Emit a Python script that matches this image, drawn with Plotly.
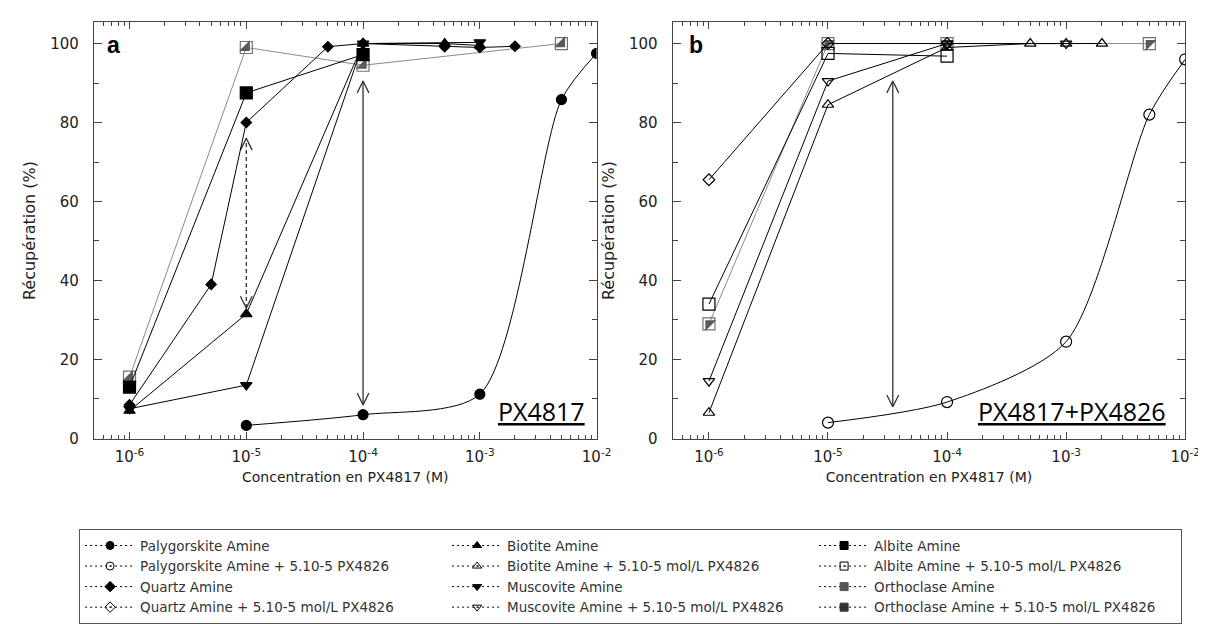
import plotly.graph_objects as go

# ---------------- data (panel a : PX4817) ----------------
pal_a_x = [1e-5, 1e-4, 1e-3, 5e-3, 1e-2]
pal_a_y = [3.3, 6.0, 11.2, 85.8, 97.5]
qtz_a_x = [1e-6, 5e-6, 1e-5, 5e-5, 1e-4, 5e-4, 1e-3, 2e-3]
qtz_a_y = [8.5, 39.0, 80.0, 99.2, 100.0, 99.2, 99.0, 99.3]
bio_a_x = [1e-6, 1e-5, 1e-4, 5e-4, 1e-3]
bio_a_y = [7.0, 31.5, 100.0, 100.0, 99.5]
mus_a_x = [1e-6, 1e-5, 1e-4, 1e-3]
mus_a_y = [7.5, 13.5, 100.0, 100.3]
alb_a_x = [1e-6, 1e-5, 1e-4]
alb_a_y = [13.0, 87.5, 97.2]
ort_a_x = [1e-6, 1e-5, 1e-4, 5e-3]
ort_a_y = [15.5, 99.0, 94.5, 100.0]

# ---------------- data (panel b : PX4817+PX4826) ----------------
pal_b_x = [1e-5, 1e-4, 1e-3, 5e-3, 1e-2]
pal_b_y = [4.0, 9.2, 24.5, 82.0, 96.0]
qtz_b_x = [1e-6, 1e-5, 1e-4]
qtz_b_y = [65.5, 100.0, 100.0]
bio_b_x = [1e-6, 1e-5, 1e-4, 5e-4, 1e-3, 2e-3]
bio_b_y = [6.5, 84.5, 99.0, 100.0, 100.0, 100.0]
mus_b_x = [1e-6, 1e-5, 1e-4, 1e-3]
mus_b_y = [14.5, 90.5, 100.0, 100.0]
alb_b_x = [1e-6, 1e-5, 1e-4]
alb_b_y = [34.0, 97.5, 96.8]
ort_b_x = [1e-6, 1e-5, 1e-4, 5e-3]
ort_b_y = [29.0, 100.0, 100.0, 100.0]

# arrows: (x, y_bottom_tip, y_top_tip, dashed)
arrows_a = [(1e-5, 33.0, 76.0, True), (1e-4, 8.5, 90.5, False)]
arrows_b = [(3.5e-5, 8.0, 90.5, False)]

tick_vals = [1e-6, 1e-5, 1e-4, 1e-3, 1e-2]
tick_text = ["10<sup>-6</sup>", "10<sup>-5</sup>", "10<sup>-4</sup>", "10<sup>-3</sup>", "10<sup>-2</sup>"]
minor_vals = [m * 10.0 ** e for e in range(-7, -1) for m in range(2, 10)]

legend_names = [
    "Palygorskite Amine", "Biotite Amine", "Albite Amine",
    "Palygorskite Amine + 5.10-5 PX4826", "Biotite Amine + 5.10-5 mol/L PX4826", "Albite Amine + 5.10-5 mol/L PX4826",
    "Quartz Amine", "Muscovite Amine", "Orthoclase Amine",
    "Quartz Amine + 5.10-5 mol/L PX4826", "Muscovite Amine + 5.10-5 mol/L PX4826", "Orthoclase Amine + 5.10-5 mol/L PX4826",
]
legend_symbols = [
    "circle", "triangle-up", "square",
    "circle-open-dot", "triangle-up-open-dot", "square-open-dot",
    "diamond", "triangle-down", "square",
    "diamond-open-dot", "triangle-down-open-dot", "square",
]
legend_colors = ["black", "black", "black", "black", "black", "black",
                 "black", "black", "#555555", "black", "black", "#333333"]

FONT = "DejaVu Sans"
GREY = "#8a8a8a"

fig = go.Figure()


def series(x, y, xa, ya, symbol, size, color="black", lcolor="black", spline=False, lw=1):
    fig.add_trace(go.Scatter(
        x=x, y=y, xaxis=xa, yaxis=ya, mode="lines+markers", showlegend=False,
        line=dict(color=lcolor, width=lw, shape="spline" if spline else "linear", smoothing=0.75),
        marker=dict(symbol=symbol, size=size, color=color, line=dict(color=color, width=1.2)),
        hoverinfo="skip"))


def ortho(x, y, xa, ya, tri):
    series(x, y, xa, ya, "square-open", 12, color="#707070", lcolor=GREY)
    fig.add_trace(go.Scatter(
        x=x, y=y, xaxis=xa, yaxis=ya, mode="markers", showlegend=False,
        marker=dict(symbol=tri, size=12, color="#5a5a5a", line=dict(width=0)),
        hoverinfo="skip"))


def arrows(lst, xa, ya):
    for (x, yb, yt, dashed) in lst:
        fig.add_trace(go.Scatter(
            x=[x, x], y=[yb, yt], xaxis=xa, yaxis=ya, mode="lines", showlegend=False,
            line=dict(color="#333333", width=1.3, dash="4px,3px" if dashed else "solid"),
            hoverinfo="skip"))
        k = 10 ** 0.05
        fig.add_trace(go.Scatter(
            x=[x / k, x, x * k, None, x / k, x, x * k],
            y=[yt - 3, yt, yt - 3, None, yb + 3, yb, yb + 3],
            xaxis=xa, yaxis=ya, mode="lines", showlegend=False,
            line=dict(color="#333333", width=1.3), hoverinfo="skip"))


# panel a
arrows(arrows_a, "x", "y")
ortho(ort_a_x, ort_a_y, "x", "y", "triangle-se")
series(pal_a_x, pal_a_y, "x", "y", "circle", 10, spline=True)
series(alb_a_x, alb_a_y, "x", "y", "square", 12)
series(mus_a_x, mus_a_y, "x", "y", "triangle-down", 10)
series(bio_a_x, bio_a_y, "x", "y", "triangle-up", 10)
series(qtz_a_x, qtz_a_y, "x", "y", "diamond", 8)

# panel b
arrows(arrows_b, "x2", "y2")
ortho(ort_b_x, ort_b_y, "x2", "y2", "triangle-nw")
series(pal_b_x, pal_b_y, "x2", "y2", "circle-open", 11, spline=True)
series(alb_b_x, alb_b_y, "x2", "y2", "square-open", 12)
series(mus_b_x, mus_b_y, "x2", "y2", "triangle-down-open", 10)
series(bio_b_x, bio_b_y, "x2", "y2", "triangle-up-open", 10)
series(qtz_b_x, qtz_b_y, "x2", "y2", "diamond-open", 9)

# legend-only entries
for name, sym, col in zip(legend_names, legend_symbols, legend_colors):
    fig.add_trace(go.Scatter(
        x=[None], y=[None], xaxis="x", yaxis="y", mode="lines+markers", name=name,
        line=dict(color="black", width=1, dash="2px,3px"),
        marker=dict(symbol=sym, size=8, color=col, line=dict(color=col, width=1))))

axis_common = dict(showline=True, linecolor="#444444", linewidth=1, mirror="ticks",
                   ticks="inside", tickcolor="#444444", showgrid=False, zeroline=False,
                   tickfont=dict(family=FONT, size=15, color="#222222"))

xcommon = dict(axis_common, type="log", range=[-6.305, -2.0], tickvals=tick_vals, ticktext=tick_text,
               ticklen=7, ticklabelstandoff=4,
               minor=dict(tickvals=minor_vals, ticks="inside", ticklen=4, tickcolor="#444444", showgrid=False),
               title=dict(text="Concentration en PX4817 (M)", font=dict(family=FONT, size=14, color="#222222"),
                          standoff=6))
ycommon = dict(axis_common, range=[-0.25, 105.5], tickvals=[0, 20, 40, 60, 80, 100], ticklen=8,
               ticklabelstandoff=11,
               minor=dict(dtick=10, ticks="inside", ticklen=5, tickcolor="#444444", showgrid=False),
               title=dict(text="Récupération (%)", font=dict(family=FONT, size=16, color="#222222"),
                          standoff=10))

W, H = 1206, 624
ydom = [(H - 437) / H, (H - 14) / H]
fig.update_layout(
    width=W, height=H, margin=dict(l=0, r=0, t=0, b=0),
    paper_bgcolor="white", plot_bgcolor="white",
    xaxis=dict(xcommon, domain=[87 / W, 596 / W], anchor="y"),
    yaxis=dict(ycommon, domain=ydom, anchor="x"),
    xaxis2=dict(xcommon, domain=[673 / W, 1192 / W], anchor="y2"),
    yaxis2=dict(ycommon, domain=ydom, anchor="x2"),
    legend=dict(orientation="h", x=72 / W, xanchor="left", y=1 - 528 / H, yanchor="top",
                bordercolor="#555555", borderwidth=1, bgcolor="white",
                itemwidth=50, entrywidth=302, traceorder="normal",
                font=dict(family=FONT, size=13.5, color="#333333")),
    showlegend=True,
)

annots = [
    dict(text="<b>a</b>", x=107 / W, y=1 - 37 / H, font=dict(family="Liberation Sans", size=23, color="black")),
    dict(text="<b>b</b>", x=697 / W, y=1 - 37 / H, font=dict(family="Liberation Sans", size=23, color="black")),
    dict(text="<u>PX4817</u>", x=540 / W, y=1 - 408 / H, font=dict(family="Open Sans", size=25, color="black")),
    dict(text="<u>PX4817+PX4826</u>", x=1077 / W, y=1 - 408 / H, font=dict(family="Open Sans", size=25, color="black")),
]
for a in annots:
    fig.add_annotation(xref="paper", yref="paper", showarrow=False, xanchor="center", yanchor="middle", **a)

fig.write_html("out.html")
